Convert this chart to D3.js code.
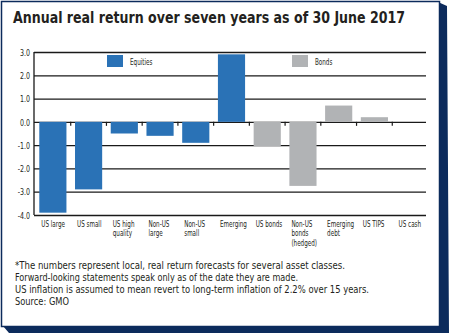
<!DOCTYPE html>
<html>
<head>
<meta charset="utf-8">
<script src="https://cdn.jsdelivr.net/npm/d3@7"></script>
<style>
  body { margin: 0; background: #fff; }
  svg { display: block; }
  text { fill: #231f20; }
</style>
</head>
<body>
<script>
// data
const categories = ["US large", "US small", "US high quality", "Non-US large", "Non-US small",
  "Emerging", "US bonds", "Non-US bonds (hedged)", "Emerging debt", "US TIPS", "US cash"];
const labelLines = [["US large"], ["US small"], ["US high", "quality"], ["Non-US", "large"],
  ["Non-US", "small"], ["Emerging"], ["US bonds"], ["Non-US", "bonds", "(hedged)"],
  ["Emerging", "debt"], ["US TIPS"], ["US cash"]];
const values = [-3.9, -2.9, -0.5, -0.6, -0.9, 2.9, -1.05, -2.75, 0.7, 0.2, 0];
const groups = ["Equities", "Equities", "Equities", "Equities", "Equities", "Equities",
  "Bonds", "Bonds", "Bonds", "Bonds", "Bonds"];
const seriesNames = ["Equities", "Bonds"];
const seriesColors = ["#2a72b6", "#b1b3b5"];
const yTicks = [3, 2, 1, 0, -1, -2, -3, -4];

const title = "Annual real return over seven years as of 30 June 2017";
const notes = [
  "*The numbers represent local, real return forecasts for several asset classes.",
  "Forward-looking statements speak only as of the date they are made.",
  "US inflation is assumed to mean revert to long-term inflation of 2.2% over 15 years.",
  "Source: GMO"
];

const W = 451, H = 334;
const navy = "#0c2b5c";
const condensed = "'DejaVu Sans Condensed', 'DejaVu Sans', sans-serif";

const svg = d3.select("body").append("svg")
  .attr("width", W).attr("height", H);

// card frame with the dark shadow strip
svg.append("path")
  .attr("d", "M438,2 L447,6 L449,333 L9,333 L3,326 L438,326 Z")
  .attr("fill", navy);
svg.append("rect")
  .attr("x", 1.5).attr("y", 1.5).attr("width", 438).attr("height", 325)
  .attr("fill", "#fff").attr("stroke", navy).attr("stroke-width", 1.5);

// title
svg.append("text")
  .attr("x", 13).attr("y", 22.5)
  .attr("font-family", condensed).attr("font-weight", "bold")
  .attr("font-size", 15.5)
  .attr("textLength", 392).attr("lengthAdjust", "spacingAndGlyphs")
  .text(title);

// scales
const x = d3.scaleBand()
  .domain(categories)
  .range([35, 428])
  .paddingInner(0.24)
  .paddingOuter(0.12);

const y = d3.scaleLinear()
  .domain([-4, 3])
  .range([215, 52]);

const color = d3.scaleOrdinal().domain(seriesNames).range(seriesColors);

const loc = d3.formatLocale({ decimal: ".", thousands: ",", grouping: [3], currency: ["$", ""], minus: "-" });
const fmt = loc.format(".1f");

const plotLeft = 34, plotRight = 426;

// horizontal grid + y labels
const yAxis = svg.append("g")
  .attr("transform", "translate(" + plotLeft + ",0)")
  .call(d3.axisLeft(y).tickValues(yTicks).tickFormat(fmt)
    .tickSize(-(plotRight - plotLeft)).tickSizeOuter(0).tickPadding(4));
yAxis.select(".domain").remove();
yAxis.selectAll(".tick line").attr("stroke", "#1a1a1a").attr("stroke-width", 1.3);
yAxis.selectAll(".tick text")
  .attr("font-family", condensed).attr("font-size", 9)
  .attr("fill", "#231f20")
  .attr("transform", function () {
    // squeeze the numbers like the condensed original
    return "scale(0.78,1)";
  })
  .attr("x", -4 / 0.78)
  .attr("dy", "0.35em");
// left axis line
svg.append("line")
  .attr("x1", plotLeft).attr("x2", plotLeft)
  .attr("y1", y(3)).attr("y2", y(-4))
  .attr("stroke", "#1a1a1a").attr("stroke-width", 1.3);

// bars
svg.append("g").selectAll("rect")
  .data(values)
  .join("rect")
  .attr("x", (d, i) => x(categories[i]))
  .attr("width", x.bandwidth())
  .attr("y", d => y(Math.max(0, d)))
  .attr("height", d => Math.abs(y(d) - y(0)))
  .attr("fill", (d, i) => color(groups[i]));

// ticks on the zero line, between categories
const step = x.step();
const bounds = d3.range(1, categories.length).map(i => x(categories[i]) - step * x.paddingInner() / 2);
svg.append("g").selectAll("line")
  .data(bounds)
  .join("line")
  .attr("x1", d => d).attr("x2", d => d)
  .attr("y1", y(0)).attr("y2", y(0) + 4)
  .attr("stroke", "#1a1a1a").attr("stroke-width", 1.2);

// category labels
const squeeze = 0.66;
const labels = svg.append("g").selectAll("g")
  .data(labelLines)
  .join("g")
  .attr("transform", (d, i) => "translate(" + (x(categories[i]) + 2) + ",227) scale(" + squeeze + ",1)");
labels.selectAll("text")
  .data(d => d)
  .join("text")
  .attr("x", 0)
  .attr("y", (d, j) => j * 9.5)
  .attr("font-family", condensed).attr("font-size", 9.5)
  .text(d => d);

// legend
const legendX = [107, 292];
const lg = svg.append("g").selectAll("g")
  .data(seriesNames)
  .join("g")
  .attr("transform", (d, i) => "translate(" + legendX[i] + ",55)");
lg.append("rect")
  .attr("width", 16).attr("height", 12)
  .attr("fill", d => color(d));
lg.append("text")
  .attr("transform", "translate(23,10) scale(" + squeeze + ",1)")
  .attr("font-family", condensed).attr("font-size", 9.5)
  .text(d => d);

// footnotes
const noteWidths = [330, 283, 354, 54];
svg.append("g").selectAll("text")
  .data(notes)
  .join("text")
  .attr("x", 15)
  .attr("y", (d, i) => 268.5 + i * 12)
  .attr("font-family", condensed).attr("font-size", 10)
  .attr("textLength", (d, i) => noteWidths[i])
  .attr("lengthAdjust", "spacingAndGlyphs")
  .text(d => d);
</script>
</body>
</html>
